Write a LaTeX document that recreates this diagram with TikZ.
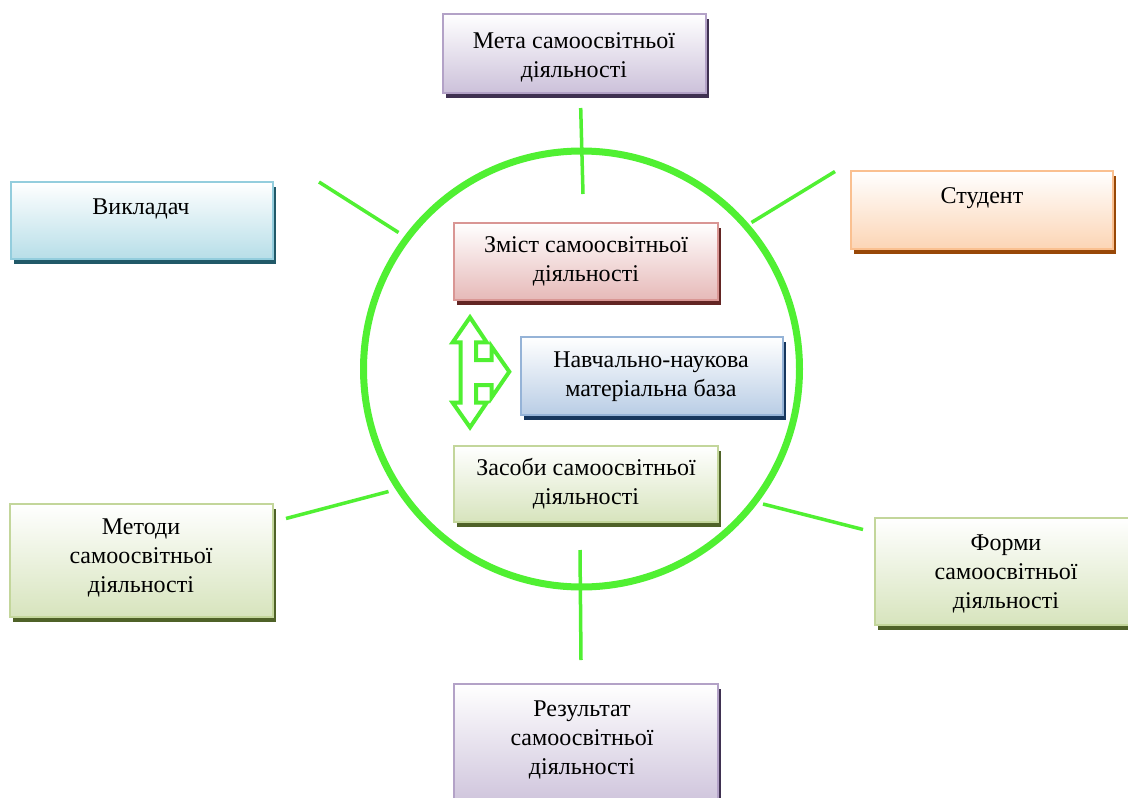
\documentclass[tikz,border=0pt]{standalone}
\usepackage{fontspec}
\setmainfont{Liberation Serif}
\usetikzlibrary{shadows}
\definecolor{lgreen}{RGB}{80,240,50}
\definecolor{purB}{HTML}{B3A2C7}\definecolor{purF}{HTML}{CCC1DA}\definecolor{purS}{HTML}{3F3151}
\definecolor{aquB}{HTML}{93CDDD}\definecolor{aquF}{HTML}{B7DEE8}\definecolor{aquS}{HTML}{215968}
\definecolor{orgB}{HTML}{FAC090}\definecolor{orgF}{HTML}{FCD5B5}\definecolor{orgS}{HTML}{984807}
\definecolor{redB}{HTML}{D99694}\definecolor{redF}{HTML}{E6B9B8}\definecolor{redS}{HTML}{632523}
\definecolor{bluB}{HTML}{95B3D7}\definecolor{bluF}{HTML}{B9CDE5}\definecolor{bluS}{HTML}{17375E}
\definecolor{grnB}{HTML}{C3D69B}\definecolor{grnF}{HTML}{D7E4BD}\definecolor{grnS}{HTML}{4F6228}
\tikzset{
  pbox/.style n args={3}{draw=#1, line width=2.5pt, top color=white, bottom color=#2,
    inner sep=0pt, drop shadow={shadow xshift=3pt, shadow yshift=-5pt, fill=#3, opacity=1}},
  lbl/.style={align=center, inner sep=0pt, font=\fontsize{24}{29}\selectfont},
  link/.style={draw=lgreen, line width=3.5pt},
}
\begin{document}
\begin{tikzpicture}[x=1pt,y=-1pt]
\clip (0,0) rectangle (1128,798);
\fill[white] (0,0) rectangle (1128,798);
% ring
\node[circle, draw=lgreen, line width=7pt, minimum size=436pt, inner sep=0pt] (ring) at (581.5,369) {};
% connectors
\coordinate (t1) at (580.7,108); \coordinate (t2) at (583,194);
\coordinate (ul1) at (319,182); \coordinate (ul2) at (398.5,232.5);
\coordinate (ur1) at (835,171.5); \coordinate (ur2) at (751.5,222.5);
\coordinate (ll1) at (286,518.5); \coordinate (ll2) at (388.5,491.5);
\coordinate (lr1) at (763,504); \coordinate (lr2) at (863,529.5);
\coordinate (b1) at (580,550); \coordinate (b2) at (581,660);
\draw[link] (t1) -- (t2);
\draw[link] (ul1) -- (ul2);
\draw[link] (ur1) -- (ur2);
\draw[link] (ll1) -- (ll2);
\draw[link] (lr1) -- (lr2);
\draw[link] (b1) -- (b2);
% boxes
\node[pbox={purB}{purF}{purS}, minimum width=263pt, minimum height=79pt] (meta) at (574.5,53.5) {};
\node[pbox={aquB}{aquF}{aquS}, minimum width=262pt, minimum height=77pt] (vykl) at (142,220.5) {};
\node[pbox={orgB}{orgF}{orgS}, minimum width=262pt, minimum height=78pt] (stud) at (982,210) {};
\node[pbox={redB}{redF}{redS}, minimum width=264pt, minimum height=77pt] (zmist) at (586,261.5) {};
\node[pbox={bluB}{bluF}{bluS}, minimum width=262pt, minimum height=78pt] (baza) at (652,376) {};
\node[pbox={grnB}{grnF}{grnS}, minimum width=264pt, minimum height=76pt] (zasoby) at (586,484) {};
\node[pbox={grnB}{grnF}{grnS}, minimum width=263pt, minimum height=113pt] (metody) at (141.5,560.5) {};
\node[pbox={grnB}{grnF}{grnS}, minimum width=265pt, minimum height=107pt] (formy) at (1007.5,571.5) {};
\node[pbox={purB}{purF}{purS}, minimum width=264pt, minimum height=126pt] (rez) at (586,747) {};
% texts
\node[lbl] (meta-t) at (574,57) {Мета самоосвітньої\\діяльності};
\node[lbl] (vykl-t) at (141,209) {Викладач};
\node[lbl] (stud-t) at (982,198) {Студент};
\node[lbl] (zmist-t) at (586,261) {Зміст самоосвітньої\\діяльності};
\node[lbl] (baza-t) at (651,377) {Навчально-наукова\\матеріальна база};
\node[lbl] (zasoby-t) at (586,484) {Засоби самоосвітньої\\діяльності};
\node[lbl] (metody-t) at (141,558) {Методи\\самоосвітньої\\діяльності};
\node[lbl] (formy-t) at (1006,573.5) {Форми\\самоосвітньої\\діяльності};
\node[lbl] (rez-t) at (582,740) {Результат\\самоосвітньої\\діяльності};
% three-way arrow
\draw[draw=lgreen, fill=white, line width=4pt, line join=miter]
  (470,317.3) -- (486.7,342.3) -- (476,342.3) -- (476,360) -- (491.7,360) -- (491.7,346.7)
  -- (509.3,371.7) -- (491.7,397.3) -- (491.7,385) -- (476,385) -- (476,402.7) -- (486.7,402.7)
  -- (470,427.3) -- (452.7,402.7) -- (460.7,402.7) -- (460.7,342.3) -- (452.7,342.3) -- cycle;
\end{tikzpicture}
\end{document}
